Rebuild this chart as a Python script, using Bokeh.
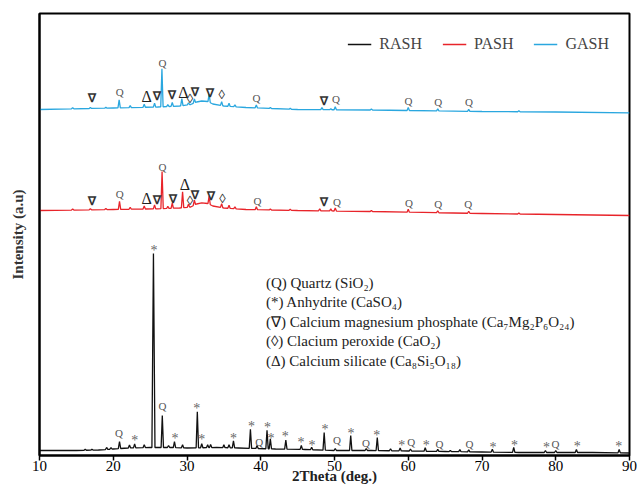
import numpy as np
from bokeh.plotting import figure
from bokeh.models import Legend, LegendItem, Label, FixedTicker, Range1d, ColumnDataSource
from bokeh.core.properties import value
from bokeh.embed import file_html
from bokeh.resources import INLINE

# ---------------- data ----------------
x_ticks = [10, 20, 30, 40, 50, 60, 70, 80, 90]

# RASH (bottom, black)
rash_bg_x = [10, 15, 18, 20, 22, 25, 28, 30, 34, 37, 42, 46, 50, 55, 60, 65, 70, 75, 80, 85, 90]
rash_bg_y = [5, 5, 5.5, 6.5, 7.5, 8, 8, 7.5, 8, 7.5, 6.5, 6, 5, 5, 4.5, 4, 3.5, 3, 3, 3, 2.5]
rash_pk_x = [16.2, 17.1, 19.1, 19.7, 20.85, 22.2, 22.9, 24.2, 25.45, 26.65, 27.5, 28.3, 29.4,
             31.4, 32.0, 32.8, 33.2, 35.0, 35.7, 36.3, 38.6, 39.5, 40.85, 41.3, 43.4, 45.5,
             46.9, 48.6, 50.1, 52.2, 54.3, 55.8, 57.6, 58.9, 60.3, 62.3, 64.0, 65.7, 67.0,
             68.2, 71.4, 74.3, 78.6, 80.0, 82.8, 88.6]
rash_pk_h = [1, 1, 2, 1.5, 7, 3, 4, 3, 194, 32, 2, 6, 3,
             36, 4, 3, 3, 3, 3, 7, 19, 3, 18.5, 10, 9, 4,
             2.5, 17.5, 2, 15, 2, 13, 2, 3, 2, 3.5, 2, 1, 2,
             2, 3, 5, 2, 2, 3, 3.5]
rash_lab_x = [20.77, 22.9, 25.52, 26.67, 28.38, 31.32, 32.0, 36.31, 38.75, 39.79, 40.93, 41.38,
              43.32, 45.45, 46.94, 48.71, 50.34, 52.24, 54.28, 55.73, 59.13, 60.39, 62.43,
              64.23, 68.31, 71.49, 74.42, 78.73, 79.95, 82.9, 88.55]
rash_lab_y = [22.7, 17.7, 208.3, 50, 20, 50, 19.3, 20, 32.3, 13.3, 31, 20,
              21.7, 15.7, 13.3, 29, 15.7, 25, 12.3, 22.7, 13.3, 13.3, 13.3,
              11.7, 11.7, 11, 13.3, 10.7, 11.7, 11.7, 11.7]
rash_lab_s = ["Q", "*", "*", "Q", "*", "*", "*", "*", "*", "Q", "*", "*",
              "*", "*", "*", "*", "Q", "*", "Q", "*", "*", "Q", "*",
              "Q", "Q", "*", "*", "*", "Q", "*", "*"]

# PASH (middle, red)
pash_bg_x = [10, 20, 26, 29, 30.5, 31.3, 32, 32.8, 33.5, 35, 38, 45, 55, 60, 70, 80, 90]
pash_bg_y = [245, 246, 246.7, 247.5, 248.5, 251.5, 252.7, 252, 249.5, 247.5, 246, 245, 244, 243.3, 242, 241, 240]
pash_pk_x = [14.5, 16.9, 19.0, 20.85, 22.3, 24.2, 25.6, 26.62, 27.4, 28.0, 29.4, 30.2, 31.0,
             33.0, 34.7, 35.7, 36.5, 39.4, 41.3, 44.0, 48.0, 49.5, 50.1, 55.0, 60.0, 64.0, 68.2, 75.0]
pash_pk_h = [1, 1, 1, 8, 2, 3, 4, 37, 2, 5, 16, 3, 5,
             8, 4, 3, 2, 3, 1, 1, 2, 2, 3, 1, 3, 2, 2, 1]
pash_lab_x = [17.16, 20.87, 24.53, 25.99, 26.67, 28.1, 29.73, 30.41, 31.15, 33.23, 34.81,
              39.57, 48.53, 50.34, 60.1, 64.06, 68.13]
pash_lab_y = [254.3, 261.7, 256.7, 256, 289, 256.7, 270.7, 255, 260.7, 259.3, 257.3,
              255, 254, 254, 253, 252, 252]
pash_lab_s = ["∇", "Q", "Δ", "∇", "Q", "∇", "Δ", "◊", "∇", "∇", "◊",
              "Q", "∇", "Q", "Q", "Q", "Q"]

# GASH (top, cyan)
gash_bg_x = [10, 20, 26, 29, 30.5, 31.3, 32, 32.8, 33.5, 35, 38, 45, 55, 60, 70, 80, 90]
gash_bg_y = [346, 347.5, 348.5, 349.5, 351, 353.5, 354.5, 354, 351.5, 349.5, 348, 346, 345.5, 345, 344, 343.5, 342.7]
gash_pk_x = [14.5, 16.9, 19.0, 20.8, 22.3, 24.2, 25.6, 26.6, 27.4, 28.0, 29.3, 30.2, 31.0,
             33.0, 34.7, 35.7, 36.5, 39.4, 41.3, 44.0, 48.3, 49.5, 50.1, 55.0, 60.0, 64.0, 68.2, 75.0]
gash_pk_h = [1, 1, 1, 8, 2, 3, 4, 38, 2, 4, 7, 2, 4,
             8, 4, 3, 2, 3, 1, 1, 2, 1, 3, 1, 3, 2, 2, 1]
gash_lab_x = [17.1, 20.87, 24.53, 25.9, 26.67, 27.95, 29.5, 30.41, 31.05, 33.14, 34.72,
              39.43, 48.53, 50.2, 60.02, 64.06, 68.23]
gash_lab_y = [357.3, 364, 359.3, 360, 392.3, 360.7, 362.7, 357.3, 363.3, 362.3, 360.7,
              357.3, 355, 356.7, 355, 353.3, 353.3]
gash_lab_s = ["∇", "Q", "Δ", "∇", "Q", "∇", "Δ", "◊", "∇", "∇", "◊",
              "Q", "∇", "Q", "Q", "Q", "Q"]

series_names = ["RASH", "PASH", "GASH"]
series_colors = ["#111111", "#e8242a", "#2aa7df"]

phase_lines = [
    "(Q) Quartz (SiO₂)",
    "(*) Anhydrite (CaSO₄)",
    "(∇) Calcium magnesium phosphate (Ca₇Mg₂P₆O₂₄)",
    "(◊) Clacium peroxide (CaO₂)",
    "(Δ) Calcium silicate (Ca₈Si₅O₁₈)",
]

# ---------------- helpers ----------------
def build_pattern(bg_x, bg_y, pk_x, pk_h, w=0.16):
    bx = np.asarray(bg_x, float)
    by = np.asarray(bg_y, float)
    pts = []
    for x, y in zip(bx, by):
        if all(abs(x - p) > w for p in pk_x):
            pts.append((x, y))
    for p, h in zip(pk_x, pk_h):
        ww = w * (1.3 if h > 100 else 1.0)
        pts.append((p - ww, float(np.interp(p - ww, bx, by))))
        pts.append((p, float(np.interp(p, bx, by)) + h))
        pts.append((p + ww, float(np.interp(p + ww, bx, by))))
    pts.sort()
    return [a for a, _ in pts], [b for _, b in pts]

SERIF = "'Liberation Serif', 'Times New Roman', serif"
sym_style = {
    "Q": ("11px", "#555555", "normal"),
    "*": ("14px", "#666666", "normal"),
    "∇": ("12px", "#333333", "bold"),
    "Δ": ("16px", "#222222", "normal"),
    "◊": ("13px", "#333333", "normal"),
}
sym_dy = {"Q": 0, "*": -3, "∇": 0, "Δ": 0, "◊": 0}

# ---------------- figure ----------------
p = figure(width=637, height=496, x_range=Range1d(10, 90), y_range=Range1d(0, 442),
           output_backend="svg", toolbar_location=None,
           min_border_left=39, min_border_right=8, min_border_top=13, min_border_bottom=41)
p.xgrid.visible = False
p.ygrid.visible = False
p.outline_line_color = "black"
p.outline_line_width = 2
p.background_fill_color = "white"
p.border_fill_color = "white"

data = [
    (rash_bg_x, rash_bg_y, rash_pk_x, rash_pk_h, rash_lab_x, rash_lab_y, rash_lab_s),
    (pash_bg_x, pash_bg_y, pash_pk_x, pash_pk_h, pash_lab_x, pash_lab_y, pash_lab_s),
    (gash_bg_x, gash_bg_y, gash_pk_x, gash_pk_h, gash_lab_x, gash_lab_y, gash_lab_s),
]

items = []
for (bx, by, px, ph, lx, ly, ls), name, col in zip(data, series_names, series_colors):
    xs, ys = build_pattern(bx, by, px, ph)
    r = p.line(xs, ys, line_color=col, line_width=1.3)
    items.append(LegendItem(label=name, renderers=[r]))
    for sym in sym_style:
        idx = [i for i, s in enumerate(ls) if s == sym]
        if not idx:
            continue
        size, color, style = sym_style[sym]
        src = ColumnDataSource(dict(x=[lx[i] for i in idx],
                                    y=[ly[i] + sym_dy[sym] for i in idx],
                                    t=[ls[i] for i in idx]))
        p.text(x="x", y="y", text="t", source=src, text_font=value(SERIF),
               text_font_size=size, text_color=color, text_font_style=style,
               text_align="center", text_baseline="middle")

legend = Legend(items=items, orientation="horizontal", location="top_right",
                border_line_color=None, background_fill_alpha=0,
                label_text_font=SERIF, label_text_font_size="16px",
                label_height=22, glyph_height=22,
                glyph_width=24, label_standoff=8, spacing=20, padding=0, margin=20)
p.add_layout(legend)

# phase description block
for i, t in enumerate(phase_lines):
    p.add_layout(Label(x=40.7, y=173 - i * 19.5, text=t, text_font=SERIF,
                       text_font_size="15px", text_color="#222222",
                       text_baseline="middle", text_align="left"))

# axes
xa = p.xaxis[0]
xa.ticker = FixedTicker(ticks=x_ticks)
xa.major_tick_out = 5
xa.major_tick_in = 0
xa.minor_tick_out = 0
xa.minor_tick_in = 0
xa.axis_line_width = 2
xa.major_tick_line_width = 1.5
xa.major_label_text_font = SERIF
xa.major_label_text_font_size = "15px"
xa.major_label_text_color = "black"
xa.major_label_standoff = 0
xa.axis_label = "2Theta (deg.)"
xa.axis_label_text_font = SERIF
xa.axis_label_text_font_size = "15px"
xa.axis_label_text_font_style = "bold"
xa.axis_label_text_color = "#222222"
xa.axis_label_standoff = -6

ya = p.yaxis[0]
ya.ticker = FixedTicker(ticks=[])
ya.major_tick_out = 0
ya.major_tick_in = 0
ya.minor_tick_out = 0
ya.minor_tick_in = 0
ya.axis_line_width = 2
ya.major_label_text_font_size = "0px"
ya.axis_label = "Intensity (a.u)"
ya.axis_label_text_font = SERIF
ya.axis_label_text_font_size = "15px"
ya.axis_label_text_font_style = "bold"
ya.axis_label_text_color = "#333333"
ya.axis_label_standoff = 14

open("out.html", "w").write(file_html(p, INLINE))
